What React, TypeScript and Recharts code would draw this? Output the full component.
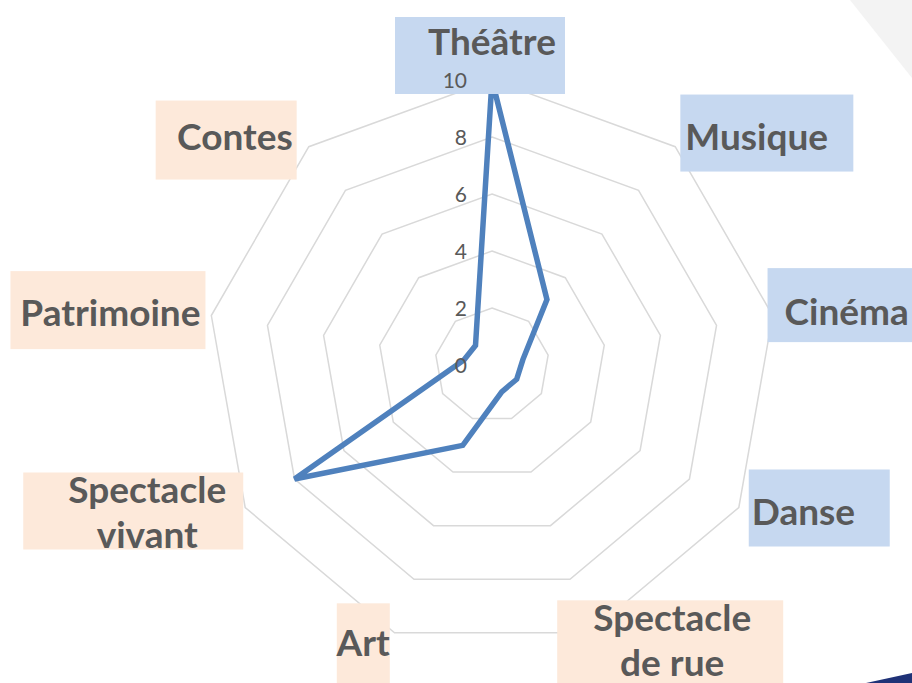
import React from "react";
import {
  RadarChart,
  Radar,
  PolarGrid,
  PolarAngleAxis,
  PolarRadiusAxis,
} from "recharts";

const categories = [
  "Théâtre",
  "Musique",
  "Cinéma",
  "Danse",
  "Spectacle de rue",
  "Art",
  "Spectacle vivant",
  "Patrimoine",
  "Contes",
];
const scores = [10, 3, 1.1, 1, 1, 3, 8, 1, 0.9];
const radiusTicks = [0, 2, 4, 6, 8, 10];

const data = categories.map((name, i) => ({ name, score: scores[i] }));

const BLUE_BOX = "#c6d8f0";
const PEACH_BOX = "#fde9da";
const TEXT = "#595959";

// label boxes, offsets from the tick point that recharts gives
const labelLayout = [
  { bx: -97, by: -55, bw: 170, bh: 77, tx: 0, ty: -30, anchor: "middle", fill: BLUE_BOX, lines: ["Théâtre"] },
  { bx: 0, by: -46, bw: 173, bh: 77, tx: 5, ty: -4, anchor: "start", fill: BLUE_BOX, lines: ["Musique"] },
  { bx: -13, by: -46, bw: 150, bh: 74, tx: 4, ty: -2, anchor: "start", fill: BLUE_BOX, lines: ["Cinéma"] },
  { bx: 3, by: -42, bw: 141, bh: 77, tx: 6, ty: 0, anchor: "start", fill: BLUE_BOX, lines: ["Danse"] },
  { bx: -35, by: -40, bw: 226, bh: 90, tx: 80, ty: -22, anchor: "middle", fill: PEACH_BOX, lines: ["Spectacle", "de rue"] },
  { bx: -55, by: -37, bw: 53, bh: 90, tx: -2, ty: 3, anchor: "end", fill: PEACH_BOX, lines: ["Art"] },
  { bx: -215, by: -39, bw: 220, bh: 77, tx: -91, ty: -22, anchor: "middle", fill: PEACH_BOX, lines: ["Spectacle", "vivant"] },
  { bx: -193, by: -43, bw: 195, bh: 78, tx: -3, ty: -1, anchor: "end", fill: PEACH_BOX, lines: ["Patrimoine"] },
  { bx: -148, by: -40, bw: 141, bh: 79, tx: -11, ty: -4, anchor: "end", fill: PEACH_BOX, lines: ["Contes"] },
];

function AngleTick(props: any) {
  const { x, y, payload } = props;
  const idx = categories.indexOf(payload.value);
  const l = labelLayout[idx];
  if (!l) return null;
  return (
    <g>
      <rect x={x + l.bx} y={y + l.by} width={l.bw} height={l.bh} fill={l.fill} />
      {l.lines.map((line, k) => (
        <text
          key={k}
          x={x + l.tx}
          y={y + l.ty + k * 45 + 13}
          textAnchor={l.anchor}
          fill={TEXT}
          fontSize={37}
          fontWeight={700}
          fontFamily="Lato, sans-serif"
        >
          {line}
        </text>
      ))}
    </g>
  );
}

function RadiusTick(props: any) {
  const { x, y, payload } = props;
  return (
    <text
      x={x - 25}
      y={y + 8}
      textAnchor="end"
      fill={TEXT}
      fontSize={21}
      fontFamily="Lato, sans-serif"
    >
      {payload.value}
    </text>
  );
}

export default function App() {
  return (
    <div style={{ position: "relative", width: 912, height: 683, background: "#fff", overflow: "hidden" }}>
      <style>{"body{margin:0}"}</style>
      <svg width={912} height={683} style={{ position: "absolute", left: 0, top: 0 }}>
        <polygon points="850,0 912,0 912,78" fill="#f3f3f3" />
        <polygon points="866,683 912,673 912,683" fill="#1f3277" />
      </svg>
      <div style={{ position: "absolute", left: 0, top: 0 }}>
        <RadarChart
          width={912}
          height={683}
          cx={492}
          cy={365}
          outerRadius={285}
          data={data}
          margin={{ top: 0, right: 0, bottom: 0, left: 0 }}
        >
          <PolarAngleAxis dataKey="name" tick={<AngleTick />} tickLine={false} axisLine={false} />
          <PolarGrid gridType="polygon" radialLines={false} stroke="#d9d9d9" strokeWidth={1.5} />
          <PolarRadiusAxis
            angle={90}
            domain={[0, 10]}
            ticks={radiusTicks}
            tickCount={6}
            axisLine={false}
            tickLine={false}
            tick={<RadiusTick />}
          />
          <Radar
            dataKey="score"
            stroke="#4f81bd"
            strokeWidth={5.5}
            fill="none"
            fillOpacity={0}
            dot={false}
            isAnimationActive={false}
          />
        </RadarChart>
      </div>
    </div>
  );
}
